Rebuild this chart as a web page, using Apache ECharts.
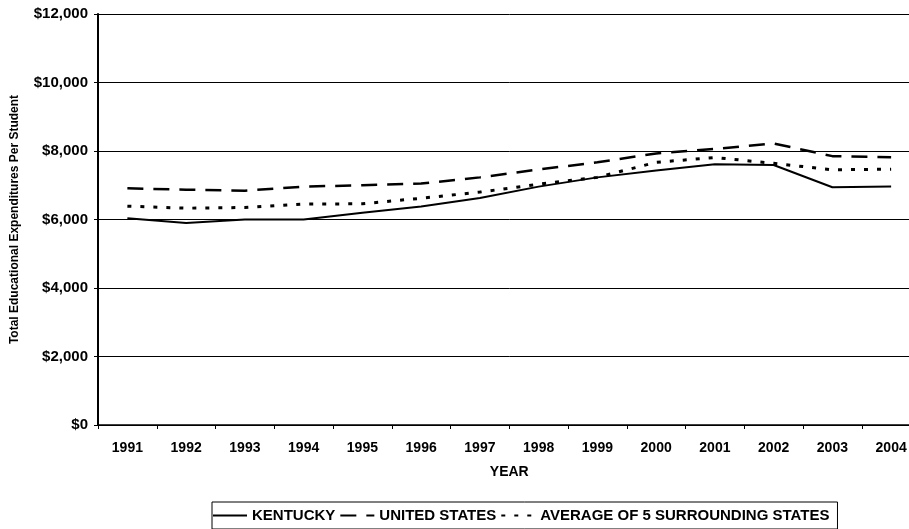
<!DOCTYPE html>
<html>
<head>
<meta charset="utf-8">
<script src="https://cdn.jsdelivr.net/npm/echarts@6/dist/echarts.min.js"></script>
<style>
  html, body { margin: 0; padding: 0; background: #fff; overflow: hidden; }
  /* canvas is a little wider than the window: the last year band runs off the right edge */
  #chart { width: 922px; height: 529px; }
</style>
</head>
<body>
<div id="chart"></div>
<script>
// Per-student educational expenditures, 1991-2004
const years = ['1991', '1992', '1993', '1994', '1995', '1996', '1997',
               '1998', '1999', '2000', '2001', '2002', '2003', '2004'];
const kentucky = [6040, 5900, 6000, 6000, 6200, 6380, 6630, 6960, 7230, 7430, 7610, 7590, 6940, 6960];
const unitedStates = [6910, 6870, 6840, 6960, 7000, 7050, 7230, 7460, 7670, 7930, 8060, 8220, 7850, 7820];
const surrounding = [6390, 6330, 6350, 6450, 6460, 6620, 6800, 7030, 7230, 7670, 7810, 7640, 7450, 7470];

const FONT = 'Liberation Sans, Arial, sans-serif';
const chart = echarts.init(document.getElementById('chart'));

const money = v => '$' + v.toLocaleString('en-US');

chart.setOption({
  animation: false,
  backgroundColor: '#fff',
  grid: { left: 98, right: 1.5, top: 14, bottom: 104, containLabel: false },
  legend: {
    left: 212,
    top: 502,
    itemGap: 4,
    itemWidth: 34,
    itemHeight: 14,
    padding: [6, 8, 6, 0],
    borderColor: '#000',
    borderWidth: 1,
    itemStyle: { opacity: 0 },
    textStyle: { fontFamily: FONT, fontWeight: 'bold', fontSize: 15, color: '#000' },
    data: ['KENTUCKY', 'UNITED STATES', 'AVERAGE OF 5 SURROUNDING STATES']
  },
  xAxis: {
    type: 'category',
    data: years,
    boundaryGap: true,
    name: 'YEAR',
    nameLocation: 'middle',
    nameGap: 40,
    nameTextStyle: { fontFamily: FONT, fontWeight: 'bold', fontSize: 14, color: '#000' },
    axisLine: { lineStyle: { color: '#000', width: 1.5 } },
    axisTick: { show: true, length: 4, alignWithLabel: false, lineStyle: { color: '#000' } },
    axisLabel: { fontFamily: FONT, fontWeight: 'bold', fontSize: 14, color: '#000', margin: 16 },
    splitLine: { show: false }
  },
  yAxis: {
    type: 'value',
    min: 0,
    max: 12000,
    interval: 2000,
    name: 'Total Educational Expenditures Per Student',
    nameLocation: 'middle',
    nameGap: 77,
    nameTextStyle: { fontFamily: FONT, fontWeight: 'bold', fontSize: 12, color: '#000' },
    axisLine: { show: true, lineStyle: { color: '#000', width: 2 } },
    axisTick: { show: true, length: 4, lineStyle: { color: '#000' } },
    axisLabel: { fontFamily: FONT, fontWeight: 'bold', fontSize: 15, color: '#000', margin: 10, formatter: money },
    splitLine: { show: true, lineStyle: { color: '#000', width: 1 } }
  },
  series: [
    {
      name: 'KENTUCKY', type: 'line', data: kentucky,
      symbol: 'none', smooth: false,
      lineStyle: { color: '#000', width: 2, type: 'solid' },
      itemStyle: { color: '#000' }
    },
    {
      name: 'UNITED STATES', type: 'line', data: unitedStates,
      symbol: 'none',
      lineStyle: { color: '#000', width: 2.5, type: [16, 10] },
      itemStyle: { color: '#000' }
    },
    {
      name: 'AVERAGE OF 5 SURROUNDING STATES', type: 'line', data: surrounding,
      symbol: 'none',
      lineStyle: { color: '#000', width: 3, type: [4, 9] },
      itemStyle: { color: '#000' }
    }
  ]
});
</script>
</body>
</html>
